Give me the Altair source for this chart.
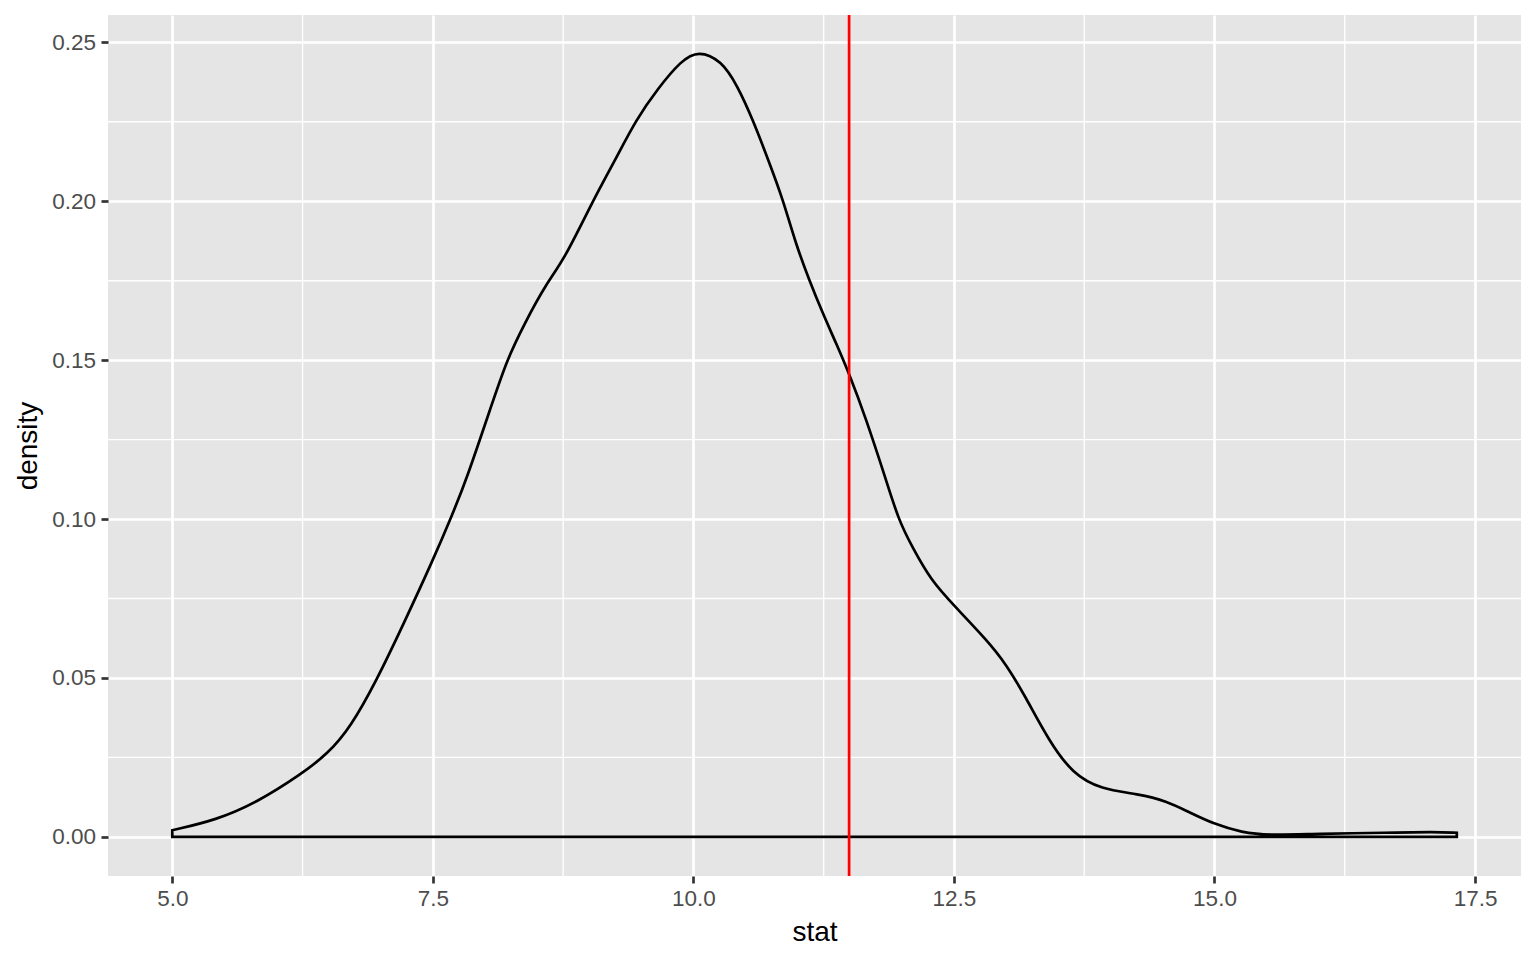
import altair as alt
import pandas as pd

# density curve
stat = [5.00, 5.42, 5.81, 6.24, 6.49, 6.71, 6.96, 7.22, 7.50, 7.69, 7.82, 8.08, 8.21,
        8.38, 8.59, 8.76, 9.04, 9.25, 9.45, 9.66, 9.88, 10.05, 10.27, 10.42, 10.57,
        10.73, 10.86, 10.98, 11.11, 11.24, 11.37, 11.50, 11.65, 11.85, 11.97, 12.10,
        12.28, 12.50, 12.82, 13.00, 13.19, 13.41, 13.64, 13.91, 14.27, 14.54, 14.76,
        15.00, 15.26, 15.53, 15.98, 16.66, 17.11, 17.325]
density = [0.0021, 0.0053, 0.0108, 0.0198, 0.0261, 0.0345, 0.0492, 0.0671, 0.0870,
           0.1017, 0.1122, 0.1375, 0.1500, 0.1616, 0.1742, 0.1816, 0.2005, 0.2130,
           0.2257, 0.2355, 0.2442, 0.2475, 0.2442, 0.2365, 0.2257, 0.2120, 0.2005,
           0.1868, 0.1753, 0.1648, 0.1553, 0.1453, 0.1322, 0.1122, 0.0996, 0.0912,
           0.0807, 0.0728, 0.0618, 0.0544, 0.0439, 0.0303, 0.0198, 0.0150, 0.0135,
           0.0113, 0.0077, 0.0040, 0.0014, 0.0005, 0.0010, 0.0013, 0.0016, 0.0013]

observed_stat = [11.494]

x_ticks = [5.0, 7.5, 10.0, 12.5, 15.0, 17.5]
x_minor = [6.25, 8.75, 11.25, 13.75, 16.25]
y_ticks = [0.00, 0.05, 0.10, 0.15, 0.20, 0.25]
y_minor = [0.025, 0.075, 0.125, 0.175, 0.225]

x_domain = [4.383, 17.941]
y_domain = [-0.0123, 0.2586]

FONT = "Liberation Sans"

df = pd.DataFrame({"stat": stat, "density": density})
xs = alt.Scale(domain=x_domain, nice=False, zero=False)
ys = alt.Scale(domain=y_domain, nice=False, zero=False)

x_axis = alt.Axis(values=x_ticks, format=".1f", grid=True, gridColor="white",
                  gridWidth=2.7, domain=False, tickColor="#333333", tickWidth=2.7,
                  tickSize=7, labelPadding=4, labelFont=FONT, labelFontSize=22.5,
                  labelColor="#4D4D4D", title="stat", titleFont=FONT,
                  titleFontSize=28, titleFontWeight="normal", titleColor="black",
                  titleY=64, titleBaseline="alphabetic")
y_axis = alt.Axis(values=y_ticks, format=".2f", grid=True, gridColor="white",
                  gridWidth=2.7, domain=False, tickColor="#333333", tickWidth=2.7,
                  tickSize=7, labelPadding=5.5, labelFont=FONT, labelFontSize=22.5,
                  labelColor="#4D4D4D", title="density", titleFont=FONT,
                  titleFontSize=28, titleFontWeight="normal", titleColor="black",
                  titleX=-72, titleY=430.5, titleAngle=270,
                  titleBaseline="alphabetic", titleAlign="center")

area = alt.Chart(df).mark_area(fill="transparent", stroke="black", strokeWidth=2.7,
                               interpolate="basis").encode(
    x=alt.X("stat:Q", scale=xs, axis=x_axis),
    y=alt.Y("density:Q", scale=ys, axis=y_axis),
    y2=alt.datum(0),
)

minor_x = alt.Chart(pd.DataFrame({"stat": x_minor})).mark_rule(
    color="white", strokeWidth=1.35).encode(x=alt.X("stat:Q", scale=xs, axis=x_axis))
minor_y = alt.Chart(pd.DataFrame({"density": y_minor})).mark_rule(
    color="white", strokeWidth=1.35).encode(y=alt.Y("density:Q", scale=ys, axis=y_axis))

vline = alt.Chart(pd.DataFrame({"stat": observed_stat})).mark_rule(
    color="red", strokeWidth=2.7).encode(x=alt.X("stat:Q", scale=xs, axis=x_axis))

chart = alt.layer(minor_x, minor_y, area, vline).properties(
    width=1413, height=861,
    autosize=alt.AutoSizeParams(type="none"),
    padding={"left": 100, "top": 7, "right": 7, "bottom": 80},
    background="white",
).configure_view(fill="#E5E5E5", stroke=None)

chart.save("out.html", embed_options={"renderer": "svg", "actions": False})
